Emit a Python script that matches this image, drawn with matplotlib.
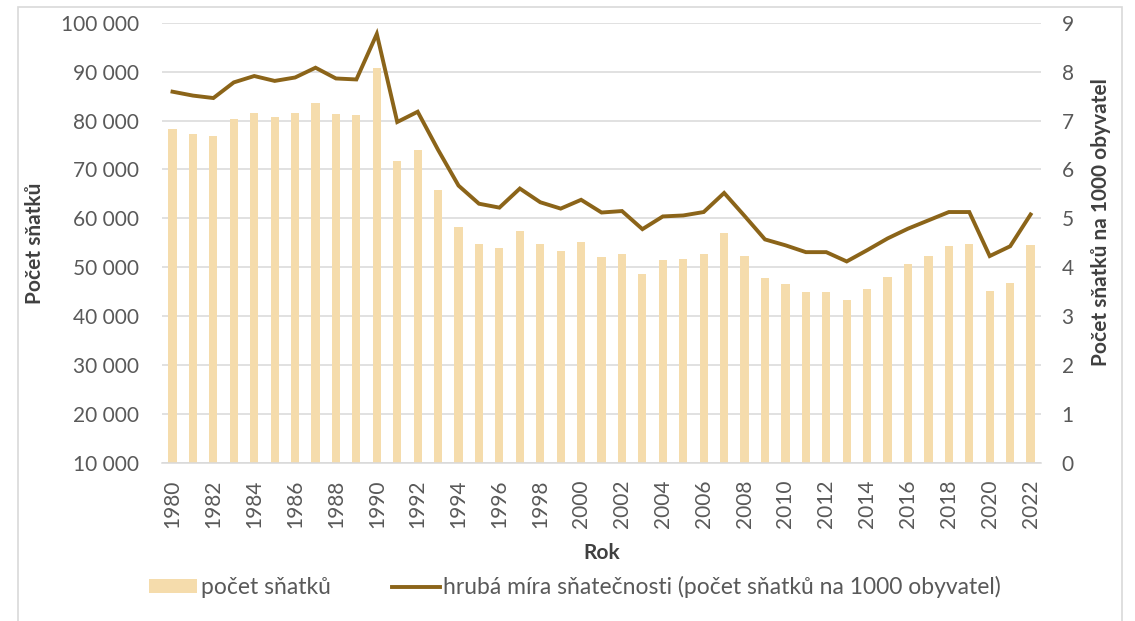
import matplotlib
matplotlib.use("Agg")
import matplotlib.pyplot as plt
from matplotlib.ticker import FuncFormatter, MultipleLocator
from matplotlib.patches import Rectangle, Patch
from matplotlib.lines import Line2D

years = list(range(1980, 2023))
marriages = [78200, 77200, 76900, 80400, 81600, 80700, 81600, 83600, 81400, 81200,
             90800, 71800, 74000, 65900, 58300, 54800, 53900, 57500, 54800, 53400,
             55100, 52200, 52700, 48700, 51400, 51700, 52700, 57100, 52400, 47800,
             46500, 45000, 45000, 43300, 45500, 48000, 50700, 52400, 54300, 54800,
             45200, 46700, 54500]
rate = [7.59, 7.51, 7.46, 7.78, 7.91, 7.81, 7.88, 8.08, 7.86, 7.84,
        8.77, 6.97, 7.18, 6.40, 5.67, 5.30, 5.22, 5.61, 5.33, 5.20,
        5.38, 5.12, 5.15, 4.78, 5.04, 5.06, 5.13, 5.52, 5.05, 4.57,
        4.45, 4.31, 4.31, 4.12, 4.35, 4.59, 4.79, 4.96, 5.13, 5.13,
        4.23, 4.43, 5.08]
xtick_years = list(range(1980, 2023, 2))

bar_label = "počet sňatků"
line_label = "hrubá míra sňatečnosti (počet sňatků na 1000 obyvatel)"
left_label = "Počet sňatků"
right_label = "Počet sňatků na 1000 obyvatel"
x_label = "Rok"

BAR_C = "#F5DCAC"
LINE_C = "#8B6419"
GRID_C = "#D9D9D9"
TICK_C = "#595959"
LAB_C = "#404040"

plt.rcParams['font.family'] = ['Lato', 'DejaVu Sans']

W, H = 1135, 621
fig = plt.figure(figsize=(W / 100, H / 100), dpi=100)
x0, x1 = 162.3, 1040.8
ytop, ybot = 22.7, 463
ax = fig.add_axes([x0 / W, (H - ybot) / H, (x1 - x0) / W, (ybot - ytop) / H])
ax2 = ax.twinx()

ax.bar(years, marriages, width=0.4, color=BAR_C, zorder=2)
ax.set_ylim(10000, 100000)
ax.set_xlim(1980 - 0.5, 2022 + 0.5)
ax.yaxis.set_major_locator(MultipleLocator(10000))
ax.yaxis.set_major_formatter(FuncFormatter(lambda v, p: f"{int(round(v)):,}".replace(",", " ")))
ax.set_axisbelow(True)
ax.grid(axis='y', color=GRID_C, linewidth=1.1)
ax.set_xticks(xtick_years)
ax.set_xticklabels([str(y) for y in xtick_years], rotation=90)

ax2.plot(years, rate, color=LINE_C, linewidth=2.8, solid_joinstyle='miter', zorder=3)
ax2.set_ylim(0, 9)
ax2.yaxis.set_major_locator(MultipleLocator(1))

for a in (ax, ax2):
    for s in a.spines.values():
        s.set_visible(False)
ax.spines['bottom'].set_visible(True)
ax.spines['bottom'].set_color(GRID_C)
ax.spines['bottom'].set_linewidth(1.1)

ax.tick_params(axis='y', length=0, pad=17, labelsize=15, labelcolor=TICK_C)
ax.tick_params(axis='x', length=0, pad=12, labelsize=15, labelcolor=TICK_C)
ax2.tick_params(axis='y', length=0, pad=15, labelsize=15, labelcolor=TICK_C)

ax.set_ylabel(left_label, fontsize=15, fontweight='bold', color=LAB_C)
ax.yaxis.set_label_coords((45 - x0) / (x1 - x0), 0.5)
ax2.set_ylabel(right_label, fontsize=15, fontweight='bold', color=LAB_C)
ax2.yaxis.set_label_coords((1091 - x0) / (x1 - x0), (ybot - 222) / (ybot - ytop))
ax.set_xlabel(x_label, fontsize=15, fontweight='bold', color=LAB_C, labelpad=11)

handles = [Patch(facecolor=BAR_C, edgecolor='none'),
           Line2D([0], [0], color=LINE_C, linewidth=2.8)]
leg = fig.legend(handles, [bar_label, line_label], loc='center', ncol=2,
                 bbox_to_anchor=(575 / W, 1 - 587 / H), frameon=False,
                 fontsize=16.5, handlelength=2.1, handleheight=0.55,
                 handletextpad=0.15, columnspacing=2.66)
for t in leg.get_texts():
    t.set_color(TICK_C)

border = Rectangle((18 / W, -0.02), (1122 - 18) / W, 1 - 7 / H + 0.02,
                   transform=fig.transFigure, fill=False, edgecolor=GRID_C,
                   linewidth=1.2)
fig.patches.append(border)

fig.savefig("out.png", dpi=100)
